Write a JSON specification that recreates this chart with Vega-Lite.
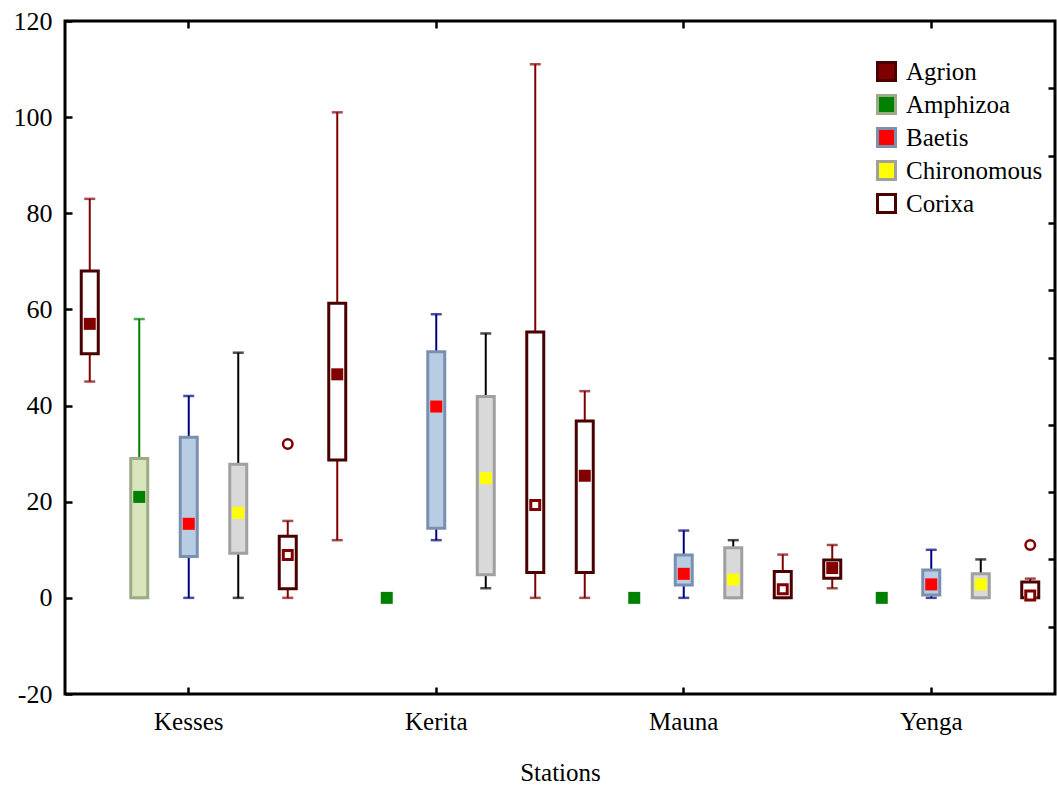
{
  "$schema": "https://vega.github.io/schema/vega-lite/v6.json",
  "width": 990,
  "height": 673,
  "autosize": {"type": "none"},
  "padding": {"left": 65, "top": 21, "right": 2, "bottom": 92},
  "background": "white",
  "config": {
    "view": {"stroke": "#000", "strokeWidth": 3},
    "axis": {
      "domain": false,
      "grid": false,
      "labelFont": "Liberation Serif",
      "labelFontSize": 25,
      "labelColor": "#000",
      "titleFont": "Liberation Serif",
      "titleFontSize": 25,
      "titleFontWeight": "normal",
      "titleColor": "#000",
      "tickColor": "#000",
      "tickWidth": 2.5,
      "tickSize": -7
    }
  },
  "data": {
    "values": [
      {"station": "Kesses", "taxon": "Agrion", "lower": 45, "q1": 50.8, "median": 57, "q3": 68, "upper": 83, "outlier": null},
      {"station": "Kesses", "taxon": "Amphizoa", "lower": 0, "q1": 0, "median": 21, "q3": 29, "upper": 58, "outlier": null},
      {"station": "Kesses", "taxon": "Baetis", "lower": 0, "q1": 8.6, "median": 15.4, "q3": 33.4, "upper": 42, "outlier": null},
      {"station": "Kesses", "taxon": "Chironomous", "lower": 0, "q1": 9.3, "median": 17.7, "q3": 27.8, "upper": 51, "outlier": null},
      {"station": "Kesses", "taxon": "Corixa", "lower": 0, "q1": 1.9, "median": 8.9, "q3": 12.8, "upper": 16, "outlier": 32},
      {"station": "Kerita", "taxon": "Agrion", "lower": 12, "q1": 28.7, "median": 46.5, "q3": 61.3, "upper": 101, "outlier": null},
      {"station": "Kerita", "taxon": "Amphizoa", "lower": null, "q1": null, "median": 0, "q3": null, "upper": null, "outlier": null},
      {"station": "Kerita", "taxon": "Baetis", "lower": 12, "q1": 14.5, "median": 39.8, "q3": 51.2, "upper": 59, "outlier": null},
      {"station": "Kerita", "taxon": "Chironomous", "lower": 2, "q1": 4.8, "median": 24.9, "q3": 41.9, "upper": 55, "outlier": null},
      {"station": "Kerita", "taxon": "Corixa", "lower": 0, "q1": 5.3, "median": 19.3, "q3": 55.3, "upper": 111, "outlier": null},
      {"station": "Mauna", "taxon": "Agrion", "lower": 0, "q1": 5.3, "median": 25.4, "q3": 36.8, "upper": 43, "outlier": null},
      {"station": "Mauna", "taxon": "Amphizoa", "lower": null, "q1": null, "median": 0, "q3": null, "upper": null, "outlier": null},
      {"station": "Mauna", "taxon": "Baetis", "lower": 0, "q1": 2.7, "median": 5, "q3": 8.9, "upper": 14, "outlier": null},
      {"station": "Mauna", "taxon": "Chironomous", "lower": 0, "q1": 0, "median": 3.8, "q3": 10.4, "upper": 12, "outlier": null},
      {"station": "Mauna", "taxon": "Corixa", "lower": 0, "q1": 0, "median": 1.8, "q3": 5.5, "upper": 9, "outlier": null},
      {"station": "Yenga", "taxon": "Agrion", "lower": 2, "q1": 4.1, "median": 6.2, "q3": 7.9, "upper": 11, "outlier": null},
      {"station": "Yenga", "taxon": "Amphizoa", "lower": null, "q1": null, "median": 0, "q3": null, "upper": null, "outlier": null},
      {"station": "Yenga", "taxon": "Baetis", "lower": 0, "q1": 0.6, "median": 2.8, "q3": 5.8, "upper": 10, "outlier": null},
      {"station": "Yenga", "taxon": "Chironomous", "lower": 0, "q1": 0, "median": 2.8, "q3": 5, "upper": 8, "outlier": null},
      {"station": "Yenga", "taxon": "Corixa", "lower": 0, "q1": 0, "median": 0.5, "q3": 3.3, "upper": 4, "outlier": 11}
    ]
  },
  "encoding": {
    "x": {
      "field": "station", "type": "nominal",
      "sort": ["Kesses", "Kerita", "Mauna", "Yenga"],
      "scale": {"paddingInner": 0, "paddingOuter": 0},
      "axis": null
    },
    "xOffset": {
      "field": "taxon", "type": "nominal",
      "sort": ["Agrion", "Amphizoa", "Baetis", "Chironomous", "Corixa"],
      "scale": {"paddingInner": 0, "paddingOuter": 0}
    }
  },
  "layer": [
    {
      "mark": {"type": "rule", "strokeWidth": 2},
      "encoding": {
        "x": {
          "field": "station", "type": "nominal",
          "sort": ["Kesses", "Kerita", "Mauna", "Yenga"],
          "scale": {"paddingInner": 0, "paddingOuter": 0},
          "axis": {"orient": "top", "labels": false, "title": null}
        },
        "y": {
          "field": "lower", "type": "quantitative",
          "scale": {"domain": [-20, 120], "nice": false, "zero": false},
          "axis": {"orient": "right", "values": [-6, 8, 22, 36, 50, 64, 78, 92, 106], "labels": false, "title": null}
        },
        "y2": {"field": "upper"},
        "stroke": {
          "field": "taxon", "type": "nominal",
          "sort": ["Agrion", "Amphizoa", "Baetis", "Chironomous", "Corixa"],
          "scale": {"domain": ["Agrion", "Amphizoa", "Baetis", "Chironomous", "Corixa"], "range": ["#800000", "#008000", "#000080", "#000000", "#800000"]},
          "legend": null
        }
      }
    },
    {
      "mark": {"type": "tick", "size": 11, "thickness": 2.5},
      "encoding": {
        "y": {"field": "lower", "type": "quantitative", "scale": {"domain": [-20, 120], "nice": false, "zero": false}, "axis": null},
        "fill": {
          "field": "taxon", "type": "nominal",
          "scale": {"domain": ["Agrion", "Amphizoa", "Baetis", "Chironomous", "Corixa"], "range": ["#800000", "#008000", "#000080", "#000000", "#800000"]},
          "legend": null
        }
      }
    },
    {
      "mark": {"type": "tick", "size": 11, "thickness": 2.5},
      "encoding": {
        "y": {"field": "upper", "type": "quantitative", "scale": {"domain": [-20, 120], "nice": false, "zero": false}, "axis": null},
        "fill": {
          "field": "taxon", "type": "nominal",
          "scale": {"domain": ["Agrion", "Amphizoa", "Baetis", "Chironomous", "Corixa"], "range": ["#800000", "#008000", "#000080", "#000000", "#800000"]},
          "legend": null
        }
      }
    },
    {
      "mark": {"type": "bar", "size": 17, "strokeWidth": 3},
      "encoding": {
        "x": {
          "field": "station", "type": "nominal",
          "sort": ["Kesses", "Kerita", "Mauna", "Yenga"],
          "scale": {"paddingInner": 0, "paddingOuter": 0},
          "axis": {"orient": "bottom", "title": "Stations", "labelAngle": 0, "labelPadding": 22, "titlePadding": 26}
        },
        "y": {
          "field": "q1", "type": "quantitative",
          "scale": {"domain": [-20, 120], "nice": false, "zero": false},
          "axis": {"orient": "left", "values": [-20, 0, 20, 40, 60, 80, 100, 120], "title": null, "labelPadding": 20, "labelFontSize": 26, "labelExpr": "'' + datum.value"}
        },
        "y2": {"field": "q3"},
        "fill": {
          "field": "taxon", "type": "nominal",
          "scale": {"domain": ["Agrion", "Amphizoa", "Baetis", "Chironomous", "Corixa"], "range": ["#ffffff", "#d8e4bc", "#b8cce4", "#d9d9d9", "#ffffff"]},
          "legend": null
        },
        "stroke": {
          "field": "taxon", "type": "nominal",
          "scale": {"domain": ["Agrion", "Amphizoa", "Baetis", "Chironomous", "Corixa"], "range": ["#4a0000", "#9caa86", "#7990ae", "#a0a0a0", "#4a0000"]},
          "legend": null
        }
      }
    },
    {
      "mark": {"type": "point", "shape": "square", "filled": true, "size": 144, "strokeWidth": 0, "opacity": 1},
      "encoding": {
        "y": {"field": "median", "type": "quantitative", "scale": {"domain": [-20, 120], "nice": false, "zero": false}, "axis": null},
        "fill": {
          "field": "taxon", "type": "nominal",
          "scale": {"domain": ["Agrion", "Amphizoa", "Baetis", "Chironomous", "Corixa"], "range": ["#800000", "#008000", "#ff0000", "#ffff00", "#ffffff"]},
          "legend": {
            "title": null, "orient": "none", "legendX": 809, "legendY": 38, "padding": 0,
            "symbolType": "square", "symbolSize": 324, "symbolStrokeWidth": 3,
            "labelFont": "Liberation Serif", "labelFontSize": 25, "labelColor": "#000",
            "labelOffset": 7, "rowPadding": 2,
            "encode": {"symbols": {"update": {"strokeWidth": {"value": 3}, "opacity": {"value": 1}}}}
          }
        },
        "stroke": {
          "field": "taxon", "type": "nominal",
          "scale": {"domain": ["Agrion", "Amphizoa", "Baetis", "Chironomous", "Corixa"], "range": ["#4a0000", "#9caa86", "#7990ae", "#a0a0a0", "#4a0000"]},
          "legend": {
            "title": null, "orient": "none", "legendX": 809, "legendY": 38, "padding": 0,
            "symbolType": "square", "symbolSize": 324, "symbolStrokeWidth": 3,
            "labelFont": "Liberation Serif", "labelFontSize": 25, "labelColor": "#000",
            "labelOffset": 7, "rowPadding": 2,
            "encode": {"symbols": {"update": {"strokeWidth": {"value": 3}, "opacity": {"value": 1}}}}
          }
        }
      }
    },
    {
      "transform": [{"filter": "datum.taxon === 'Corixa'"}],
      "mark": {"type": "point", "shape": "square", "filled": false, "fill": "#ffffff", "stroke": "#800000", "strokeWidth": 3, "size": 80, "opacity": 1},
      "encoding": {
        "y": {"field": "median", "type": "quantitative", "scale": {"domain": [-20, 120], "nice": false, "zero": false}, "axis": null}
      }
    },
    {
      "mark": {"type": "point", "shape": "circle", "filled": false, "stroke": "#800000", "strokeWidth": 2.5, "size": 90, "opacity": 1},
      "encoding": {
        "y": {"field": "outlier", "type": "quantitative", "scale": {"domain": [-20, 120], "nice": false, "zero": false}, "axis": null}
      }
    }
  ],
  "resolve": {
    "scale": {"fill": "independent", "stroke": "independent"},
    "axis": {"x": "independent", "y": "independent"}
  }
}
